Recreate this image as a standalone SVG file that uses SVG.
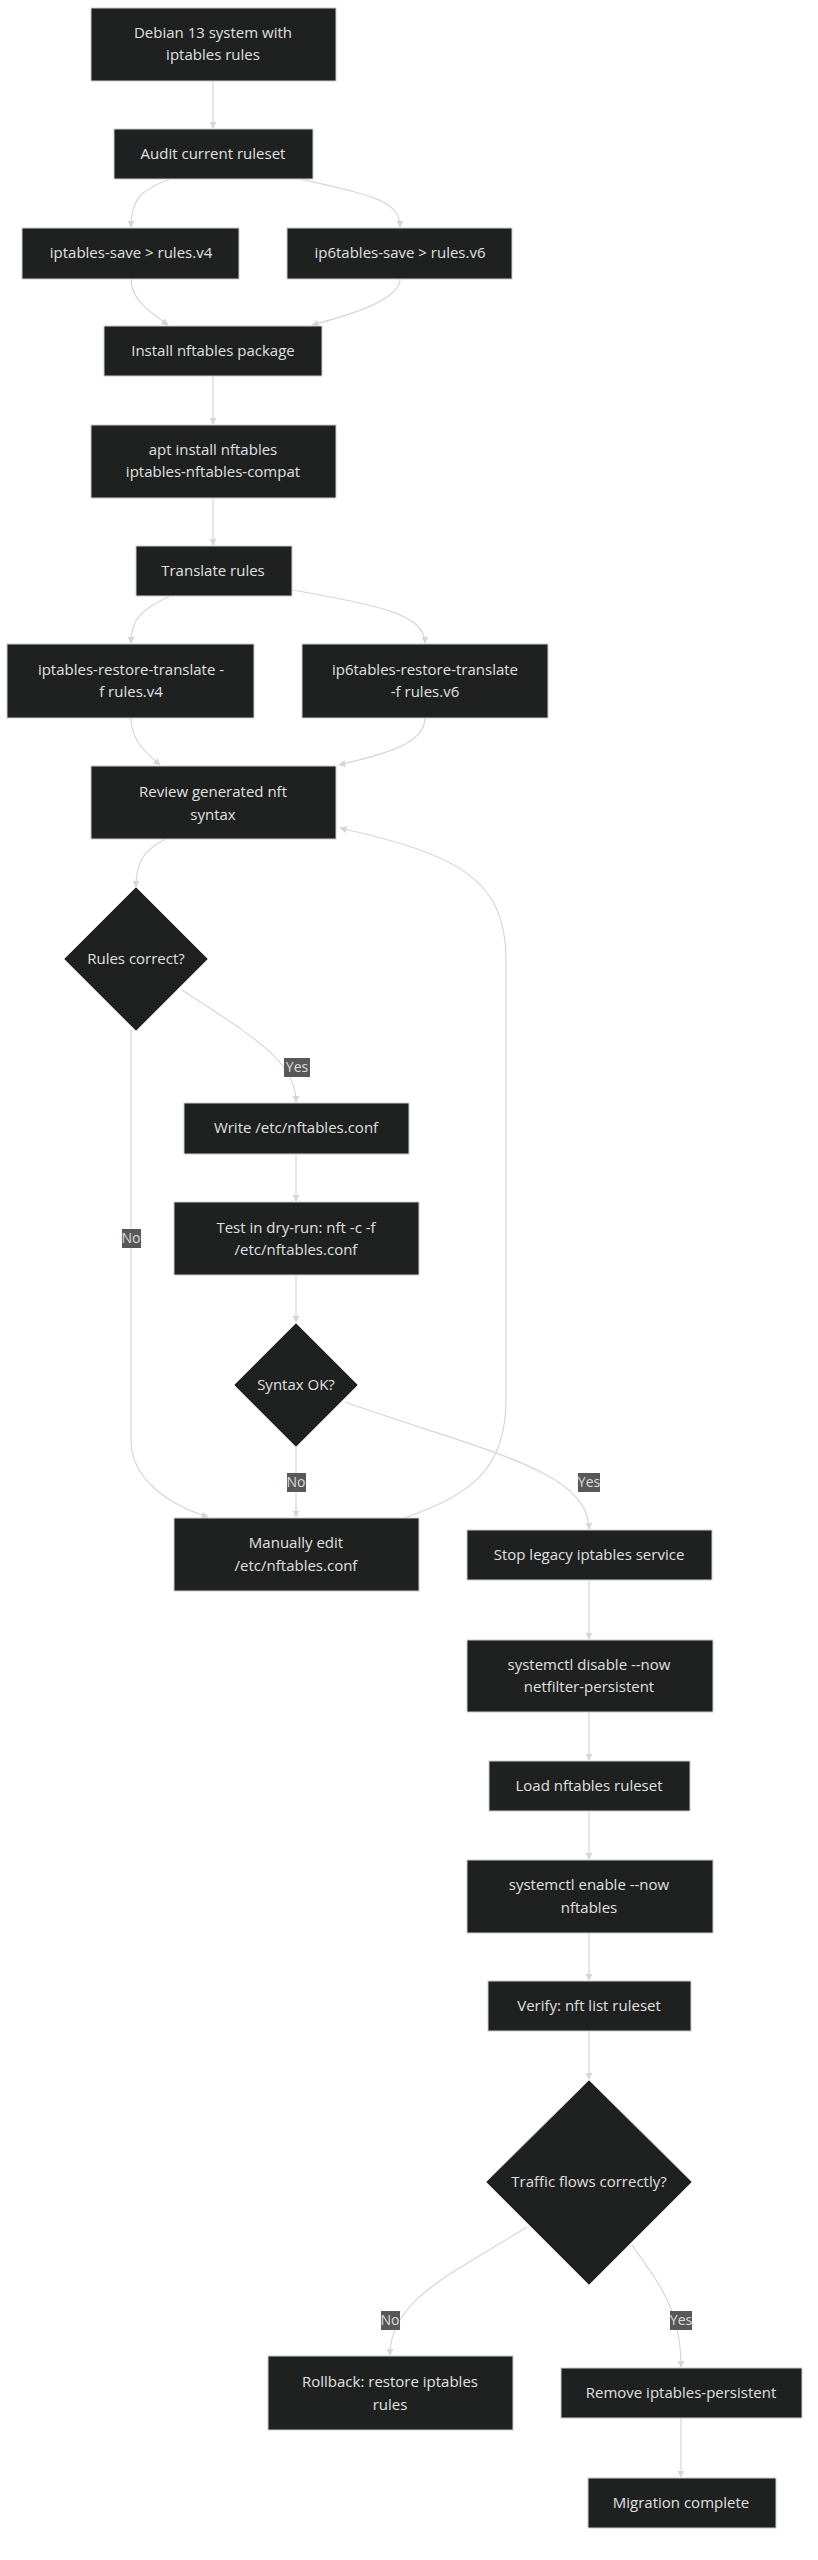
<svg xmlns="http://www.w3.org/2000/svg" width="818" height="2560" viewBox="0 0 818 2560">
<defs>
<style>
.n rect,.n polygon{fill:#1f2020;stroke:#cccccc;stroke-width:1}
.n text{fill:#e0e0e0;font-family:"Open Sans","Liberation Sans",sans-serif;font-size:15px;text-anchor:middle}
.e path{fill:none;stroke:#d6d6d6;stroke-width:1.2;marker-end:url(#ah)}
.l rect{fill:#585858}
.l text{fill:#dddddd;font-family:"Open Sans","Liberation Sans",sans-serif;font-size:14px;text-anchor:middle}
</style>
<marker id="ah" viewBox="0 0 10 10" refX="9" refY="5" markerWidth="6" markerHeight="6" orient="auto"><path d="M0,0 L10,5 L0,10 z" fill="#d6d6d6"/></marker>
</defs>
<rect width="818" height="2560" fill="#ffffff"/>
<g id="edges" class="e">
<path d="M213,81 L213,128"/>
<path d="M170,179 C140,190 131,200 131,227"/>
<path d="M300,179 C370,195 400,200 400,227"/>
<path d="M131,279 C131,300 150,312 168,325"/>
<path d="M400,279 C400,300 350,315 312,325"/>
<path d="M213,376 L213,424"/>
<path d="M213,498 L213,545"/>
<path d="M170,596 C140,610 131,620 131,643"/>
<path d="M292,590 C380,605 425,615 425,643"/>
<path d="M131,718 C131,740 145,752 160,765"/>
<path d="M425,718 C425,745 380,755 339,765"/>
<path d="M165,839 C145,850 136,860 136,887"/>
<path d="M182,990 C250,1035 296,1060 296,1102"/>
<path d="M131,1030 L131,1440 C131,1480 170,1505 208,1517"/>
<path d="M296,1154 L296,1201"/>
<path d="M296,1275 L296,1322"/>
<path d="M296,1447 L296,1517"/>
<path d="M345,1402 C480,1450 589,1470 589,1529"/>
<path d="M404,1518 C470,1495 506,1470 506,1400 L506,960 C506,880 460,855 340,828"/>
<path d="M589,1580 L589,1639"/>
<path d="M589,1712 L589,1760"/>
<path d="M589,1811 L589,1859"/>
<path d="M589,1933 L589,1980"/>
<path d="M589,2031 L589,2079"/>
<path d="M527,2227 C450,2275 390,2300 390,2355"/>
<path d="M632,2245 C660,2285 681,2310 681,2367"/>
<path d="M681,2418 L681,2477"/>
</g>
<g id="labels" class="l">
<g><rect x="284" y="1058" width="26" height="19"/><text x="297" y="1072">Yes</text></g>
<g><rect x="122" y="1229" width="19" height="19"/><text x="131" y="1243">No</text></g>
<g><rect x="287" y="1473" width="19" height="19"/><text x="296" y="1487">No</text></g>
<g><rect x="578" y="1473" width="22" height="19"/><text x="589" y="1487">Yes</text></g>
<g><rect x="381" y="2311" width="19" height="19"/><text x="390" y="2325">No</text></g>
<g><rect x="670" y="2311" width="22" height="19"/><text x="681" y="2325">Yes</text></g>
</g>
<g id="n1" class="n"><rect x="91" y="8" width="245" height="73"/><text x="213" y="38">Debian 13 system with</text><text x="213" y="60">iptables rules</text></g>
<g id="n2" class="n"><rect x="114" y="129" width="199" height="50"/><text x="213" y="159">Audit current ruleset</text></g>
<g id="n3" class="n"><rect x="22" y="228" width="217" height="51"/><text x="131" y="258">iptables-save &gt; rules.v4</text></g>
<g id="n4" class="n"><rect x="287" y="228" width="225" height="51"/><text x="400" y="258">ip6tables-save &gt; rules.v6</text></g>
<g id="n5" class="n"><rect x="104" y="326" width="218" height="50"/><text x="213" y="356">Install nftables package</text></g>
<g id="n6" class="n"><rect x="91" y="425" width="245" height="73"/><text x="213" y="455">apt install nftables</text><text x="213" y="477">iptables-nftables-compat</text></g>
<g id="n7" class="n"><rect x="136" y="546" width="156" height="50"/><text x="213" y="576">Translate rules</text></g>
<g id="n8" class="n"><rect x="7" y="644" width="247" height="74"/><text x="131" y="675">iptables-restore-translate -</text><text x="131" y="697">f rules.v4</text></g>
<g id="n9" class="n"><rect x="302" y="644" width="246" height="74"/><text x="425" y="675">ip6tables-restore-translate</text><text x="425" y="697">-f rules.v6</text></g>
<g id="n10" class="n"><rect x="91" y="766" width="245" height="73"/><text x="213" y="797">Review generated nft</text><text x="213" y="820">syntax</text></g>
<g id="n11" class="n"><polygon points="136,887 208,959 136,1031 64,959"/><text x="136" y="964">Rules correct?</text></g>
<g id="n12" class="n"><rect x="184" y="1103" width="225" height="51"/><text x="296" y="1133">Write /etc/nftables.conf</text></g>
<g id="n13" class="n"><rect x="174" y="1202" width="245" height="73"/><text x="296" y="1233">Test in dry-run: nft -c -f</text><text x="296" y="1255">/etc/nftables.conf</text></g>
<g id="n14" class="n"><polygon points="296,1323 358,1385 296,1447 234,1385"/><text x="296" y="1390">Syntax OK?</text></g>
<g id="n15" class="n"><rect x="174" y="1518" width="245" height="73"/><text x="296" y="1548">Manually edit</text><text x="296" y="1571">/etc/nftables.conf</text></g>
<g id="n16" class="n"><rect x="467" y="1530" width="245" height="50"/><text x="589" y="1560">Stop legacy iptables service</text></g>
<g id="n17" class="n"><rect x="467" y="1640" width="246" height="72"/><text x="589" y="1670">systemctl disable --now</text><text x="589" y="1692">netfilter-persistent</text></g>
<g id="n18" class="n"><rect x="489" y="1761" width="201" height="50"/><text x="589" y="1791">Load nftables ruleset</text></g>
<g id="n19" class="n"><rect x="467" y="1860" width="246" height="73"/><text x="589" y="1890">systemctl enable --now</text><text x="589" y="1913">nftables</text></g>
<g id="n20" class="n"><rect x="488" y="1981" width="203" height="50"/><text x="589" y="2011">Verify: nft list ruleset</text></g>
<g id="n21" class="n"><polygon points="589,2080 692,2182 589,2285 486,2182"/><text x="589" y="2187">Traffic flows correctly?</text></g>
<g id="n22" class="n"><rect x="268" y="2356" width="245" height="74"/><text x="390" y="2387">Rollback: restore iptables</text><text x="390" y="2410">rules</text></g>
<g id="n23" class="n"><rect x="561" y="2368" width="241" height="50"/><text x="681" y="2398">Remove iptables-persistent</text></g>
<g id="n24" class="n"><rect x="588" y="2478" width="188" height="50"/><text x="681" y="2508">Migration complete</text></g>
</svg>
